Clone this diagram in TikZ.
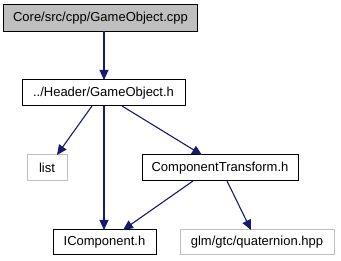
\documentclass[tikz,border=0pt]{standalone}
\usepackage{fontspec}
\setmainfont{Liberation Sans}
\usetikzlibrary{arrows.meta}
\definecolor{edgeblue}{HTML}{191970}
\definecolor{rootfill}{HTML}{BFBFBF}
\definecolor{extgray}{HTML}{BFBFBF}
\tikzset{
  file/.style={draw=black, line width=1pt, fill=white, inner sep=0pt, outer sep=0pt,
    minimum height=26pt, font=\fontsize{13}{15}\selectfont, text=black},
  rootfile/.style={file, fill=rootfill, minimum height=27pt},
  extfile/.style={file, draw=extgray},
  dep/.style={draw=edgeblue, line width=1.1pt,
    -{Triangle[length=10pt,width=9pt]}}
}
\begin{document}
\begin{tikzpicture}[x=1pt,y=-1pt]
  \useasboundingbox (0,0) rectangle (341,261);
  \node[rootfile, minimum width=193pt] (cpp) at (100.5,18) {Core/src/cpp/GameObject.cpp};
  \node[file, minimum width=163pt] (goh) at (103.5,93) {../Header/GameObject.h};
  \node[extfile, minimum width=40pt] (list) at (47,168) {list};
  \node[file, minimum width=156pt] (ct) at (220,168) {ComponentTransform.h};
  \node[file, minimum width=103pt, minimum height=25pt] (ic) at (104.5,242.5) {IComponent.h};
  \node[extfile, minimum width=154pt, minimum height=25pt] (quat) at (257,242.5) {glm/gtc/quaternion.hpp};

  \draw[dep] ([xshift=3.5pt]cpp.south) -- ([xshift=0.5pt]goh.north);
  \draw[dep] ([xshift=-11.5pt]goh.south) -- ([xshift=10pt]list.north);
  \draw[dep] ([xshift=0.5pt]goh.south) -- ([xshift=-0.5pt]ic.north);
  \draw[dep] ([xshift=18.5pt]goh.south) -- ([xshift=-18pt]ct.north);
  \draw[dep] ([xshift=-27pt]ct.south) -- ([xshift=18.5pt]ic.north);
  \draw[dep] ([xshift=7pt]ct.south) -- ([xshift=-6pt]quat.north);
\end{tikzpicture}
\end{document}
